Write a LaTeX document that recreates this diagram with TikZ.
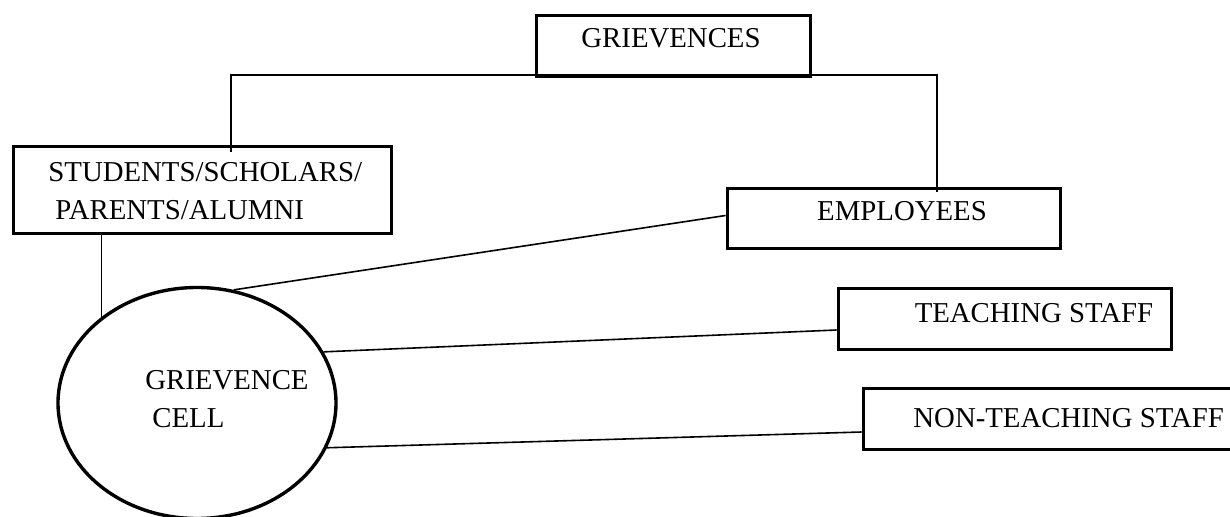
\documentclass[tikz,border=0pt]{standalone}
\usepackage{fontspec}
\setmainfont{Liberation Serif}
\usetikzlibrary{shapes.geometric}
\tikzset{
  box/.style={draw, line width=1.9pt, rectangle, inner sep=0pt, fill=white},
  cellshape/.style={draw, line width=1.7pt, ellipse, inner sep=0pt, minimum width=139pt, minimum height=115.5pt},
  conn/.style={draw, line width=0.8pt},
  lbl/.style={inner sep=0pt, font=\fontsize{14.4}{17}\selectfont},
}
\begin{document}
\begin{tikzpicture}[x=0.5pt,y=-0.5pt]
\useasboundingbox (0,0) rectangle (1230,517);
\clip (0,0) rectangle (1230,517);
\fill[white] (0,0) rectangle (1230,517);

\coordinate (jl) at (231,75);
\coordinate (jr) at (937,75);

\node[box, minimum width=137pt, minimum height=30.5pt] (griev) at (673.5,46) {};
\node[box, minimum width=189pt, minimum height=43.5pt] (stud) at (202.5,190) {};
\node[box, minimum width=166.5pt, minimum height=30pt] (emp) at (894,218.5) {};
\node[box, minimum width=166.5pt, minimum height=30.5pt] (teach) at (1005,319) {};
\node[box, minimum width=192.5pt, minimum height=30.5pt] (nonteach) at (1056,419) {};
\node[cellshape] (cell) at (197,403) {};

\draw[conn] ([yshift=-3.5pt]jl |- stud.north) -- (jl) -- (jr) -- ([yshift=-2.5pt]jr |- emp.north);
\draw[conn] (stud.south -| cell.138) -- (cell.138);
\draw[conn] (cell.72.5) -- ([yshift=1.5pt]emp.west);
\draw[conn] (cell.22.8) -- ([yshift=-5.5pt]teach.west);
\draw[conn] (cell.-19.9) -- ([yshift=-6.5pt]nonteach.west);

\node[lbl, anchor=base] (tgriev) at (671,48) {GRIEVENCES};
\node[lbl, anchor=base west] (tstud1) at (48,182) {STUDENTS/SCHOLARS/};
\node[lbl, anchor=base west] (tstud2) at (55,220) {PARENTS/ALUMNI};
\node[lbl, anchor=base] (temp) at (902,221) {EMPLOYEES};
\node[lbl, anchor=base] (tteach) at (1034,323) {TEACHING STAFF};
\node[lbl, anchor=base west] (tnon) at (913,428) {NON-TEACHING STAFF};
\node[lbl, anchor=base west] (tcell1) at (145,390) {GRIEVENCE};
\node[lbl, anchor=base west] (tcell2) at (152,428) {CELL};
\end{tikzpicture}
\end{document}
